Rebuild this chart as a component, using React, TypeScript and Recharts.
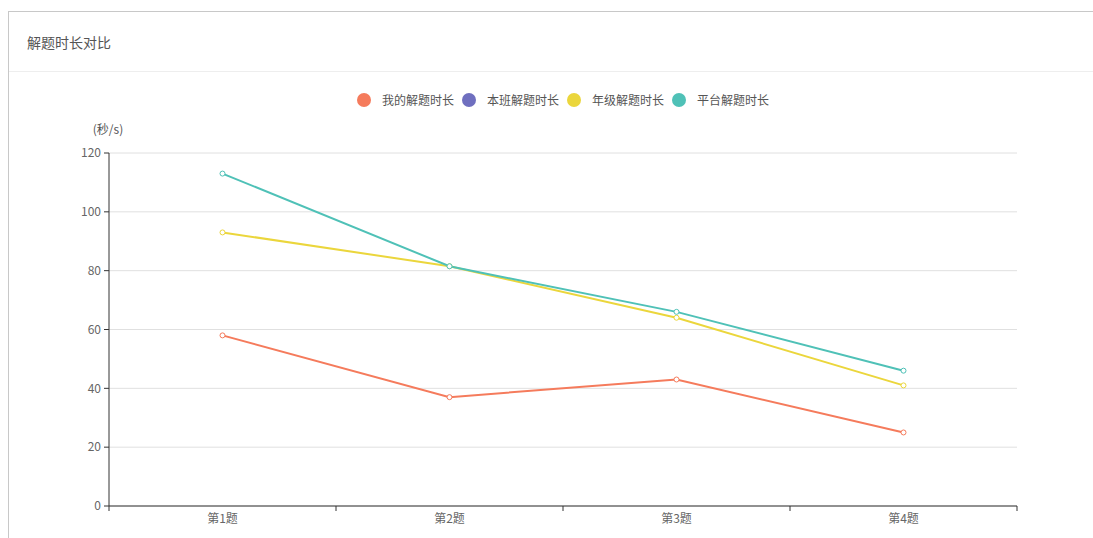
import { LineChart, Line, XAxis, YAxis, CartesianGrid } from "recharts";

const questions = ["第1题", "第2题", "第3题", "第4题"];
const myTime = [58, 37, 43, 25];
const classTime: (number | null)[] = [null, null, null, null];
const gradeTime = [93, 81.5, 64, 41];
const platformTime = [113, 81.5, 66, 46];
const yTicks = [0, 20, 40, 60, 80, 100, 120];

const series = [
  { key: "mine", name: "我的解题时长", color: "#f57b5c", values: myTime },
  { key: "cls", name: "本班解题时长", color: "#6f6fbf", values: classTime },
  { key: "grade", name: "年级解题时长", color: "#ebd63c", values: gradeTime },
  { key: "platform", name: "平台解题时长", color: "#4fc1b7", values: platformTime },
];

const data = questions.map((name, i) => {
  const row: Record<string, string | number | null> = { name };
  series.forEach((s) => (row[s.key] = s.values[i]));
  return row;
});

const FONT = '"Noto Sans CJK SC", "Noto Sans", sans-serif';
const PLOT_W = 908;
const HALF_BAND = PLOT_W / questions.length / 2;
const TICK_SIZE = 5;
const TICK_MARGIN = 3;

// category label in the middle, tick marks on the band edges
function BandTick(props: any) {
  const { x, y, payload, index } = props;
  const axisY = y - TICK_SIZE - TICK_MARGIN;
  const last = index === questions.length - 1;
  return (
    <g>
      <line
        x1={x - HALF_BAND}
        x2={x - HALF_BAND}
        y1={axisY}
        y2={axisY + TICK_SIZE}
        stroke="#333"
      />
      {last && (
        <line
          x1={x + HALF_BAND}
          x2={x + HALF_BAND}
          y1={axisY}
          y2={axisY + TICK_SIZE}
          stroke="#333"
        />
      )}
      <text x={x} y={y} dy="0.71em" textAnchor="middle" fontSize={12} fill="#666">
        {payload.value}
      </text>
    </g>
  );
}

export default function App() {
  return (
    <div
      style={{
        position: "absolute",
        left: 8,
        top: 11,
        width: 1085,
        height: 527,
        boxSizing: "border-box",
        borderTop: "1px solid #c8c8c8",
        borderLeft: "1px solid #c8c8c8",
        fontFamily: FONT,
        background: "#fff",
      }}
    >
      {/* header */}
      <div
        style={{
          height: 59,
          borderBottom: "1px solid #eeeeee",
          display: "flex",
          alignItems: "center",
          paddingLeft: 18,
          fontSize: 14,
          color: "#555",
        }}
      >
        解题时长对比
      </div>

      <div style={{ position: "relative", width: 1084, height: 466 }}>
        {/* legend */}
        <div
          style={{
            position: "absolute",
            top: 19,
            left: 0,
            width: 1108,
            display: "flex",
            justifyContent: "center",
            gap: 8,
            fontSize: 12,
            color: "#555",
            zIndex: 1,
          }}
        >
          {series.map((s) => (
            <div key={s.key} style={{ display: "flex", alignItems: "center" }}>
              <span
                style={{
                  width: 14,
                  height: 14,
                  borderRadius: "50%",
                  background: s.color,
                  marginRight: 11,
                }}
              />
              <span>{s.name}</span>
            </div>
          ))}
        </div>

        <LineChart
          width={1084}
          height={466}
          data={data}
          margin={{ top: 81, right: 76, bottom: 2, left: 60 }}
          style={{ fontFamily: FONT }}
        >
          <CartesianGrid vertical={false} stroke="#e0e0e0" />
          <XAxis
            dataKey="name"
            height={30}
            padding={{ left: HALF_BAND, right: HALF_BAND }}
            axisLine={{ stroke: "#333" }}
            tickLine={false}
            tickSize={TICK_SIZE}
            tickMargin={TICK_MARGIN}
            tick={BandTick}
          />
          <YAxis
            width={40}
            domain={[0, 120]}
            ticks={yTicks}
            tickSize={TICK_SIZE}
            tickMargin={TICK_MARGIN}
            axisLine={{ stroke: "#333" }}
            tickLine={{ stroke: "#333" }}
            tick={{ fontSize: 12, fill: "#666" }}
            label={{
              value: "(秒/s)",
              position: "top",
              offset: 19,
              dx: 19,
              style: { fontSize: 12, fill: "#555" },
            }}
          />
          {series.map((s) => (
            <Line
              key={s.key}
              dataKey={s.key}
              name={s.name}
              stroke={s.color}
              strokeWidth={2}
              dot={{ r: 2.5, fill: "#fff", stroke: s.color, strokeWidth: 1 }}
              activeDot={false}
              isAnimationActive={false}
            />
          ))}
        </LineChart>
      </div>
    </div>
  );
}
